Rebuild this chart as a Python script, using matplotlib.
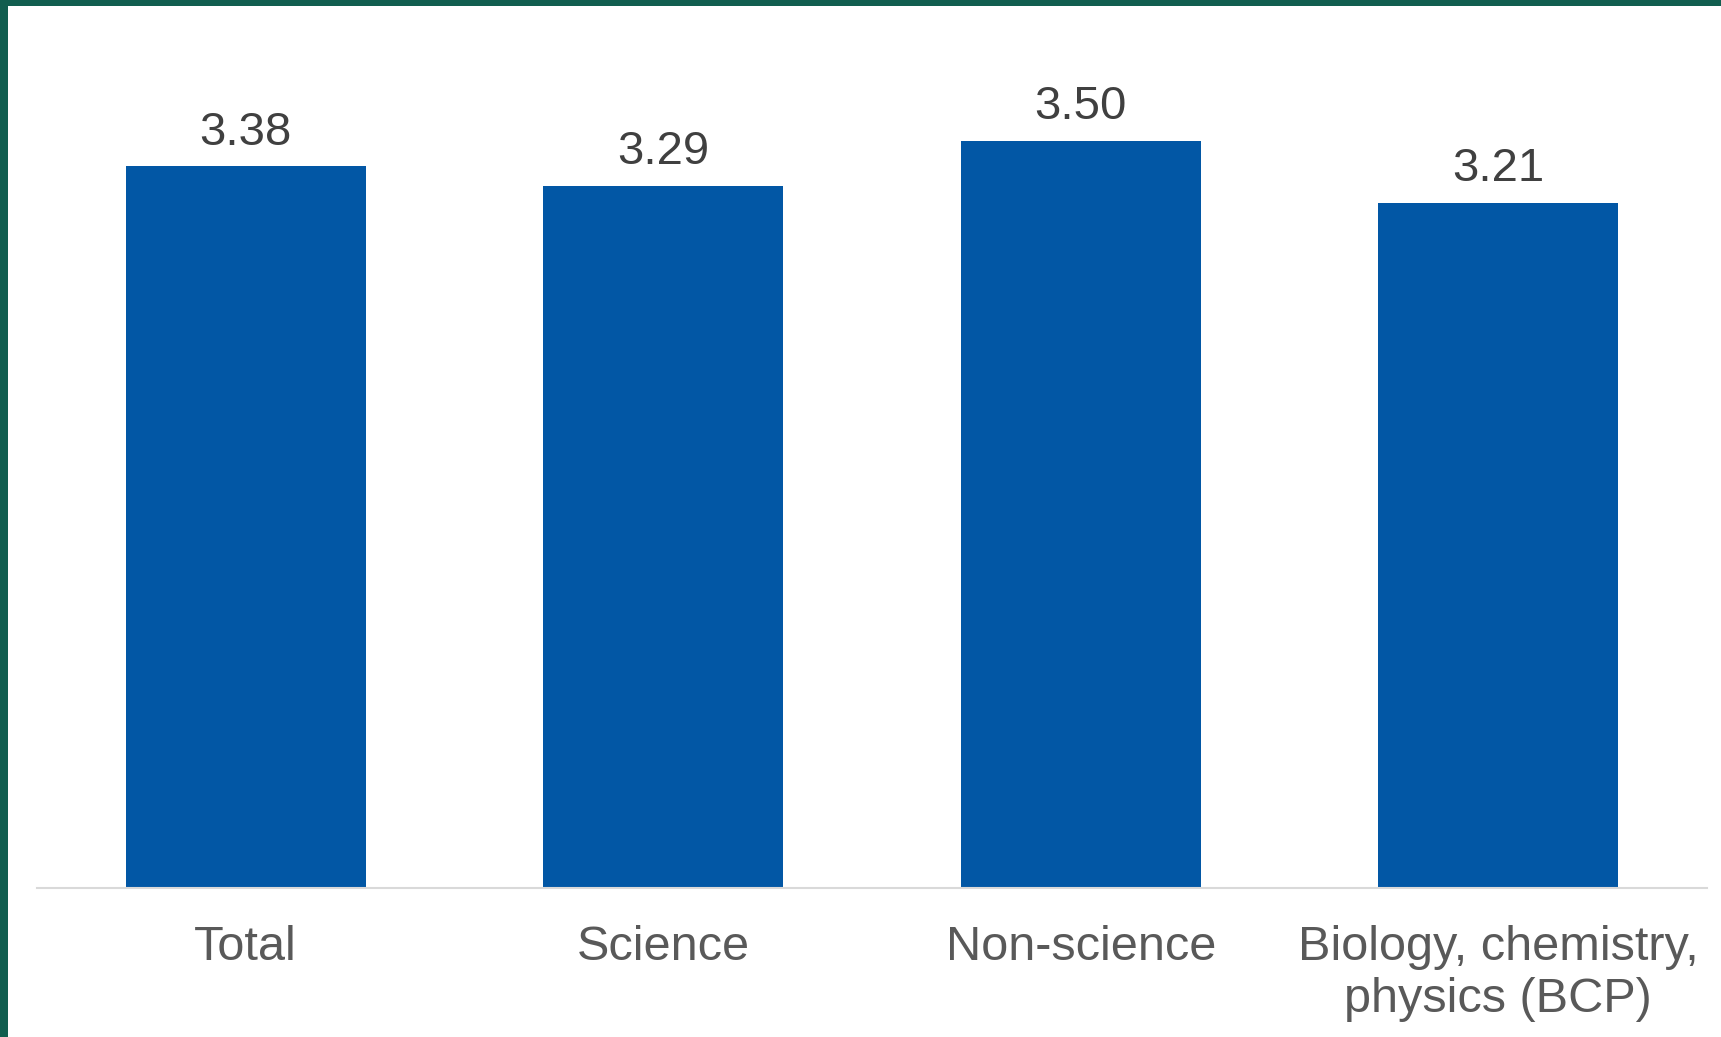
import matplotlib
matplotlib.use("Agg")
import matplotlib.pyplot as plt
from matplotlib.patches import Rectangle

categories = ["Total", "Science", "Non-science", "Biology, chemistry,\nphysics (BCP)"]
values = [3.38, 3.29, 3.50, 3.21]
value_labels = ["3.38", "3.29", "3.50", "3.21"]

plt.rcParams['font.family'] = ['Liberation Sans', 'DejaVu Sans']

W, H = 1721, 1037
fig = plt.figure(figsize=(W / 100, H / 100), dpi=100)
fig.patch.set_facecolor("white")

# green frame on top and left
border = "#115e4f"
fig.add_artist(Rectangle((0, 1 - 6 / H), 1, 6 / H, transform=fig.transFigure,
                         facecolor=border, edgecolor="none", zorder=10))
fig.add_artist(Rectangle((0, 0), 8 / W, 1, transform=fig.transFigure,
                         facecolor=border, edgecolor="none", zorder=10))

ax = fig.add_axes([37 / W, (H - 888) / H, (1707 - 37) / W, (888 - 34) / H])
x = list(range(len(categories)))
bars = ax.bar(x, values, width=0.575, color="#0257a5", zorder=2)
ax.set_xlim(-0.5, len(categories) - 0.5)
ax.set_ylim(0, 4)

for b, lab in zip(bars, value_labels):
    ax.annotate(lab, (b.get_x() + b.get_width() / 2, b.get_height()),
                xytext=(0, 8.5), textcoords="offset points", ha="center", va="bottom",
                fontsize=34, color="#404040")

ax.set_xticks(x)
ax.set_xticklabels(categories, fontsize=35, color="#595959", linespacing=1.2)
ax.tick_params(axis="x", length=0, pad=27)
ax.set_yticks([])
for s in ["top", "right", "left"]:
    ax.spines[s].set_visible(False)
ax.spines["bottom"].set_color("#d9d9d9")
ax.spines["bottom"].set_linewidth(1.5)
ax.set_facecolor("white")

fig.savefig("out.png", dpi=100)
